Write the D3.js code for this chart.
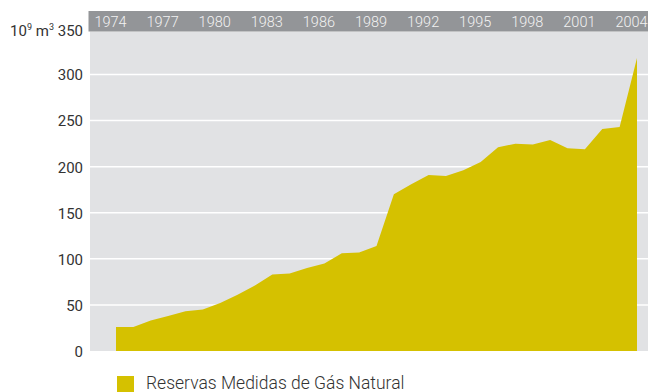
<!DOCTYPE html>
<html>
<head>
<meta charset="utf-8">
<script src="https://cdn.jsdelivr.net/npm/d3@7"></script>
<style>
  html, body { margin: 0; padding: 0; background: #fff; }
  svg { display: block; }
</style>
</head>
<body>
<script>
// Reservas medidas de gás natural (10^9 m³), 1974–2004
const years = d3.range(1974, 2005);
const reserves = [26, 26, 33, 38, 43, 45, 52, 61, 71, 83,
                  84, 90, 95, 106, 107, 114, 170, 181, 191, 190,
                  196, 205, 221, 225, 224, 229, 220, 219, 241, 243, 318];
const yearTicks = [1974, 1977, 1980, 1983, 1986, 1989, 1992, 1995, 1998, 2001, 2004];
const valueTicks = [0, 50, 100, 150, 200, 250, 300];
const legendLabel = "Reservas Medidas de Gás Natural";

const W = 648, H = 392;
const plot = { left: 90, right: 648, top: 31.5, bottom: 351 };
const font = "Roboto, 'Open Sans', sans-serif";

const svg = d3.select("body").append("svg").attr("width", W).attr("height", H);

const x = d3.scaleLinear().domain([1974, 2004]).range([116, 637]);
const y = d3.scaleLinear().domain([0, 300]).range([plot.bottom, 74.5]);

// plot background
svg.append("rect")
  .attr("x", plot.left).attr("y", plot.top)
  .attr("width", plot.right - plot.left).attr("height", plot.bottom - plot.top)
  .attr("fill", "#e1e2e4");

// horizontal grid
svg.append("g").selectAll("line")
  .data(valueTicks.filter(d => d > 0))
  .join("line")
  .attr("x1", plot.left).attr("x2", plot.right)
  .attr("y1", d => y(d)).attr("y2", d => y(d))
  .attr("stroke", "#ffffff").attr("stroke-width", 1.5);

// area
const data = years.map((yr, i) => ({ year: yr, value: reserves[i] }));
svg.append("path")
  .datum(data)
  .attr("fill", "#d5c100")
  .attr("d", d3.area().x(d => x(d.year)).y0(y(0)).y1(d => y(d.value)));

// top band with year labels
svg.append("rect")
  .attr("x", 88.5).attr("y", 11)
  .attr("width", W - 88.5).attr("height", plot.top - 11)
  .attr("fill", "#939598");

const xAxis = d3.axisTop(x).tickValues(yearTicks).tickFormat(d3.format("d")).tickSize(0).tickPadding(0);
svg.append("g")
  .attr("transform", `translate(-6, 26.5)`)
  .call(xAxis)
  .call(g => g.select(".domain").remove())
  .call(g => g.selectAll("text")
    .attr("fill", "#f2f2f2")
    .attr("font-family", font)
    .attr("font-weight", 300)
    .attr("font-size", 14.5)
    .attr("dy", 0));

// left value axis
const yAxis = d3.axisLeft(y).tickValues(valueTicks).tickSize(0).tickPadding(0);
svg.append("g")
  .attr("transform", `translate(83, 0)`)
  .call(yAxis)
  .call(g => g.select(".domain").remove())
  .call(g => g.selectAll("text")
    .attr("fill", "#333")
    .attr("font-family", font)
    .attr("font-size", 15)
    .attr("dy", "0.36em"));

// unit label with top value
const unit = svg.append("text")
  .attr("x", 83).attr("y", 36)
  .attr("text-anchor", "end")
  .attr("fill", "#333")
  .attr("font-family", font)
  .attr("font-size", 15);
unit.append("tspan").text("10");
unit.append("tspan").attr("dy", -6).attr("font-size", 9).text("9");
unit.append("tspan").attr("dy", 6).text(" m");
unit.append("tspan").attr("dy", -6).attr("font-size", 9).text("3");
unit.append("tspan").attr("dy", 6).text(" 350");

// legend
const legend = svg.append("g").attr("transform", "translate(117, 376)");
legend.append("rect")
  .attr("x", 0).attr("y", 0).attr("width", 17).attr("height", 16)
  .attr("fill", "#d5c100");
legend.append("text")
  .attr("x", 29).attr("y", 12.5)
  .attr("fill", "#333")
  .attr("font-family", font)
  .attr("font-weight", 300)
  .attr("font-size", 17.5)
  .text(legendLabel);
</script>
</body>
</html>
